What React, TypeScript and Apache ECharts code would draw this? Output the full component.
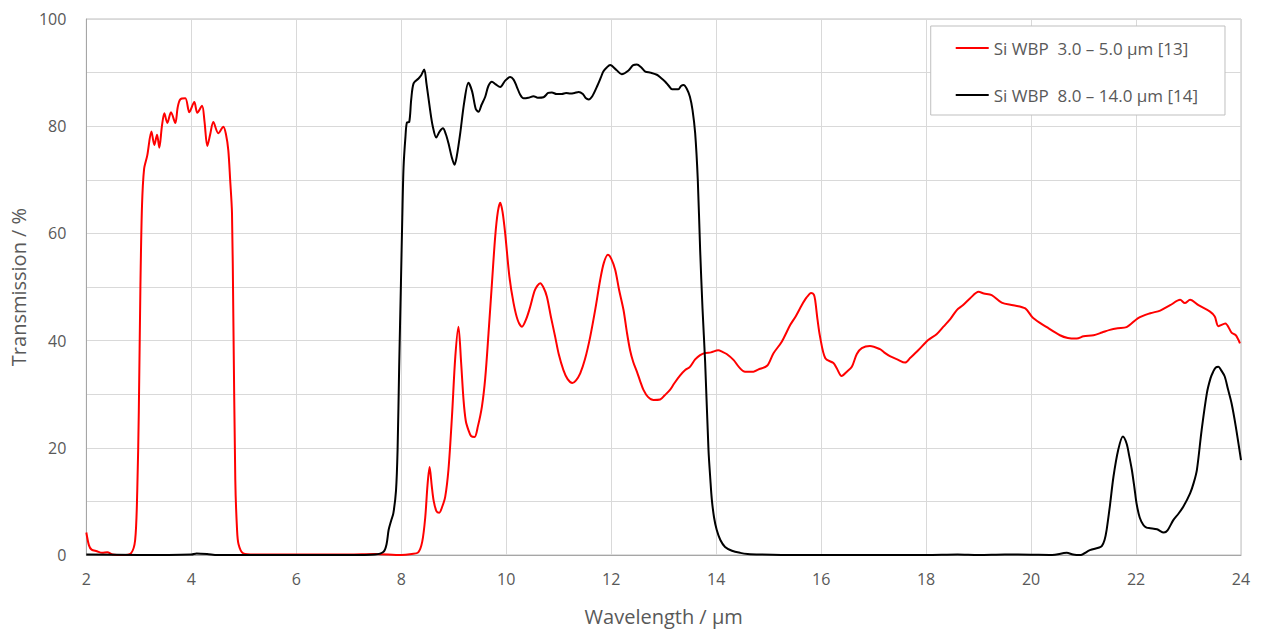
import React, { useEffect, useRef } from "react";
import * as echarts from "echarts";

const xTicks = [2, 4, 6, 8, 10, 12, 14, 16, 18, 20, 22, 24];
const yTicks = [0, 20, 40, 60, 80, 100];

const seriesNames = [
  "Si WBP\u00a0 3.0 – 5.0 µm [13]",
  "Si WBP\u00a0 8.0 – 14.0 µm [14]",
];

// Si WBP 3.0–5.0 µm: wavelength (µm) and transmission (%)
const redWavelength = [
  2.0, 2.05, 2.1, 2.2, 2.3, 2.4, 2.5, 2.7, 2.85, 2.93, 2.97, 3.0, 3.03, 3.06, 3.1, 3.16, 3.24, 3.295, 3.347, 3.39,
  3.44, 3.486, 3.543, 3.613, 3.695, 3.74, 3.79, 3.886, 3.962, 4.057, 4.114, 4.204, 4.25, 4.305, 4.36, 4.419, 4.514,
  4.61, 4.66, 4.705, 4.74, 4.775, 4.8, 4.838, 4.87, 4.9, 4.99, 5.2, 6.0, 7.0, 7.5, 8.0, 8.2, 8.324, 8.4, 8.457, 8.5,
  8.54, 8.58, 8.616, 8.67, 8.724, 8.78, 8.838, 8.9, 8.966, 9.03, 9.09, 9.14, 9.187, 9.23, 9.28, 9.33, 9.397, 9.46,
  9.537, 9.6, 9.663, 9.73, 9.79, 9.84, 9.886, 9.93, 9.98, 10.06, 10.14, 10.22, 10.3, 10.38, 10.457, 10.55, 10.648,
  10.71, 10.775, 10.85, 10.933, 11.0, 11.09, 11.17, 11.26, 11.33, 11.41, 11.5, 11.6, 11.7, 11.79, 11.86, 11.937, 12.0,
  12.076, 12.15, 12.235, 12.3, 12.36, 12.42, 12.49, 12.55, 12.615, 12.7, 12.806, 12.933, 13.02, 13.12, 13.2, 13.314,
  13.41, 13.5, 13.6, 13.695, 13.79, 13.9, 14.04, 14.12, 14.2, 14.33, 14.44, 14.55, 14.71, 14.8, 14.97, 15.09, 15.25,
  15.41, 15.52, 15.63, 15.72, 15.81, 15.86, 15.886, 15.93, 15.98, 16.08, 16.235, 16.3, 16.39, 16.49, 16.585, 16.68,
  16.775, 16.93, 17.12, 17.2, 17.31, 17.45, 17.6, 17.7, 17.85, 18.04, 18.2, 18.33, 18.46, 18.585, 18.7, 18.84, 19.0,
  19.1, 19.25, 19.44, 19.66, 19.89, 20.04, 20.3, 20.55, 20.7, 20.87, 21.0, 21.19, 21.35, 21.5, 21.65, 21.82, 22.04,
  22.27, 22.46, 22.65, 22.84, 22.93, 23.03, 23.19, 23.41, 23.5, 23.57, 23.7, 23.82, 23.9, 23.98,
];
const redTransmission = [
  4.2, 1.8, 1.0, 0.7, 0.4, 0.5, 0.1, 0, 0.3, 2.8, 12, 27, 50, 65, 72, 74.5, 79, 76.5, 78.4, 76,
  80, 82.4, 80.6, 82.6, 80.6, 83.5, 85, 85.2, 82.6, 84.5, 82.5, 83.8, 81, 76.3, 78.5, 80.8, 78.7,
  79.9, 78.5, 75.5, 70, 63.8, 45, 14, 5, 2, 0.3, 0.1, 0.1, 0.1, 0.2, 0, 0.2, 0.5, 2.5, 7, 13,
  16.4, 13, 10.2, 8.2, 7.9, 9, 10.9, 16, 25.8, 37, 42.6, 36, 28.9, 25, 23.3, 22.2, 22, 24,
  27.7, 33, 41.4, 51, 59.4, 64, 65.7, 64, 60, 52, 47, 43.8, 42.6, 44, 46.3, 49.5, 50.7,
  49.9, 48.2, 44.5, 40.7, 37.5, 34.5, 32.8, 32.1, 32.6, 33.9, 36.5, 40.7, 46, 51.3, 54.5, 56, 55.3,
  53.2, 49.5, 45.7, 41.5, 38.2, 36, 34.2, 32.5, 30.8, 29.5, 28.9, 29, 29.8, 30.8, 32, 33.5,
  34.5, 35.1, 36.5, 37.3, 37.7, 37.8, 38.2, 37.9, 37.5, 36.4, 35, 34.2, 34.2, 34.6, 35.3, 37.6, 39.8,
  42.9, 44.6, 46.6, 48, 48.9, 48.6, 47.6, 44, 40.7, 36.7, 35.8, 34.8, 33.4, 34.2, 35.1, 37.5,
  38.6, 39, 38.4, 37.8, 37.1, 36.5, 35.9, 36.8, 38.2, 40.1, 41.2, 42.6, 44, 45.7, 46.6, 47.9, 49.1,
  48.8, 48.5, 47.1, 46.6, 46, 44.2, 42.5, 41, 40.5, 40.4, 40.8, 41, 41.5, 42, 42.3, 42.5, 44.2,
  45.1, 45.6, 46.6, 47.6, 47, 47.6, 46.6, 45.4, 44.5, 42.7, 43.2, 41.5, 41, 39.5,
];

// Si WBP 8.0–14.0 µm: wavelength (µm) and transmission (%)
const blackWavelength = [
  2.0, 3.0, 4.0, 4.1, 4.3, 4.5, 6.0, 7.0, 7.5, 7.663, 7.72, 7.76, 7.81, 7.85, 7.9, 7.93, 7.96, 7.994, 8.02, 8.044,
  8.08, 8.108, 8.152, 8.19, 8.235, 8.33, 8.38, 8.438, 8.48, 8.55, 8.6, 8.667, 8.73, 8.794, 8.85, 8.9, 8.96, 9.015,
  9.06, 9.124, 9.2, 9.28, 9.35, 9.42, 9.472, 9.53, 9.6, 9.66, 9.727, 9.8, 9.886, 9.98, 10.076, 10.14, 10.2, 10.27,
  10.33, 10.42, 10.52, 10.6, 10.71, 10.8, 10.87, 10.96, 11.06, 11.14, 11.22, 11.3, 11.38, 11.46, 11.52, 11.57, 11.64,
  11.73, 11.8, 11.85, 11.92, 11.98, 12.1, 12.2, 12.33, 12.42, 12.49, 12.57, 12.65, 12.75, 12.87, 12.95, 13.03, 13.1,
  13.16, 13.28, 13.33, 13.38, 13.44, 13.5, 13.55, 13.6, 13.65, 13.695, 13.74, 13.79, 13.854, 13.89, 13.918, 13.96,
  14.01, 14.08, 14.17, 14.3, 14.46, 14.6, 14.84, 15.5, 17.0, 18.0, 18.6, 19.0, 19.5, 20.0, 20.4, 20.68, 20.8, 20.93,
  21.12, 21.3, 21.35, 21.4, 21.44, 21.5, 21.57, 21.66, 21.75, 21.82, 21.87, 21.92, 21.97, 22.01, 22.07, 22.14, 22.2,
  22.27, 22.4, 22.53, 22.6, 22.71, 22.8, 22.9, 23.03, 23.1, 23.16, 23.25, 23.35, 23.42, 23.47, 23.52, 23.57, 23.62,
  23.69, 23.75, 23.82, 23.9, 24.0,
];
const blackTransmission = [
  0.1, 0, 0.1, 0.3, 0.2, 0, 0, 0, 0.1, 0.6, 2, 4.7, 6.5, 7.8, 12, 19.6, 35, 50.7, 63, 72.4,
  78, 80.7, 80.8, 85, 88, 88.9, 89.5, 90.6, 88, 83, 80, 77.9, 79, 79.6, 78.5, 76.8, 74.3, 72.8,
  74.5, 78.7, 84.5, 88.1, 86.5, 83.2, 82.7, 84, 85.5, 87.5, 88.3, 87.8, 87.3, 88.5, 89.2, 88.7, 87.4, 85.8,
  85.2, 85.3, 85.6, 85.3, 85.4, 86.2, 86.3, 86, 86, 86.2, 86.1, 86.2, 86.4, 86, 85.2, 85, 85.6,
  87.4, 89, 90.2, 91, 91.4, 90.5, 89.7, 90.4, 91.4, 91.5, 91, 90.2, 90, 89.6, 89, 88.3, 87.5,
  86.9, 86.9, 87.5, 87.7, 87, 85.5, 83, 78.7, 70, 56.9, 46, 36, 19.6, 14, 10.3, 7,
  4.7, 2.8, 1.5, 0.8, 0.4, 0.2, 0.1, 0, 0, 0, 0.1, 0, 0.1, 0.05, 0, 0.4, 0.1, 0,
  0.9, 1.4, 1.7, 2.8, 4.7, 9, 14.6, 19.6, 22.1, 20.8, 18.5, 15.9, 12.5, 9.6, 7, 5.6, 5.1,
  5, 4.8, 4.2, 4.6, 6.5, 7.6, 9, 11.5, 13.5, 15.9, 23.3, 30.2, 33, 34.2, 35, 35.1, 34.5,
  33.3, 31, 28.3, 24, 17.7,
];

const zip = (xs: number[], ys: number[]) => xs.map((x, i) => [x, ys[i]]);

const FONT = "'Open Sans', 'Noto Sans', sans-serif";
const TEXT = "#595959";

export default function App() {
  const ref = useRef<HTMLDivElement>(null);
  useEffect(() => {
    if (!ref.current) return;
    const chart = echarts.init(ref.current, undefined, { renderer: "svg" });
    chart.setOption({
      animation: false,
      backgroundColor: "#ffffff",
      textStyle: { fontFamily: FONT },
      grid: {
        left: 86,
        right: 21,
        top: 19,
        bottom: 78,
        show: true,
        borderColor: "#bfbfbf",
        borderWidth: 1,
      },
      legend: {
        orient: "vertical",
        right: 37,
        top: 26,
        padding: [11, 27, 9, 25],
        itemGap: 25,
        itemWidth: 33,
        itemHeight: 2,
        icon: "rect",
        borderColor: "#bfbfbf",
        borderWidth: 1,
        backgroundColor: "#ffffff",
        textStyle: { color: TEXT, fontSize: 17, fontFamily: FONT, lineHeight: 22 },
        data: seriesNames,
      },
      xAxis: {
        type: "value",
        min: xTicks[0],
        max: xTicks[xTicks.length - 1],
        interval: 2,
        name: "Wavelength / µm",
        nameLocation: "middle",
        nameGap: 51,
        nameTextStyle: { color: TEXT, fontSize: 20, fontFamily: FONT },
        axisLine: { show: true, lineStyle: { color: "#a6a6a6", width: 1 } },
        axisTick: { show: false },
        axisLabel: { color: TEXT, fontSize: 16, margin: 16, fontFamily: FONT },
        splitLine: { show: true, lineStyle: { color: "#d9d9d9", width: 1 } },
      },
      yAxis: {
        type: "value",
        min: yTicks[0],
        max: yTicks[yTicks.length - 1],
        interval: 20,
        name: "Transmission / %",
        nameLocation: "middle",
        nameGap: 58,
        nameTextStyle: { color: TEXT, fontSize: 20, fontFamily: FONT },
        axisLine: { show: true, lineStyle: { color: "#a6a6a6", width: 1 } },
        axisTick: { show: false },
        axisLabel: { color: TEXT, fontSize: 16, margin: 20, fontFamily: FONT },
        splitLine: { show: true, lineStyle: { color: "#d9d9d9", width: 1 } },
        minorTick: { show: false, splitNumber: 2 },
        minorSplitLine: { show: true, lineStyle: { color: "#d9d9d9", width: 1 } },
      },
      series: [
        {
          name: seriesNames[0],
          type: "line",
          data: zip(redWavelength, redTransmission),
          symbol: "none",
          smooth: 0.3,
          lineStyle: { color: "#ff0000", width: 2 },
          itemStyle: { color: "#ff0000" },
          z: 2,
        },
        {
          name: seriesNames[1],
          type: "line",
          data: zip(blackWavelength, blackTransmission),
          symbol: "none",
          smooth: 0.3,
          lineStyle: { color: "#000000", width: 2 },
          itemStyle: { color: "#000000" },
          z: 3,
        },
      ],
    });
    return () => chart.dispose();
  }, []);
  return (
    <div
      ref={ref}
      style={{ position: "fixed", left: 0, top: 0, width: 1262, height: 633 }}
    />
  );
}
